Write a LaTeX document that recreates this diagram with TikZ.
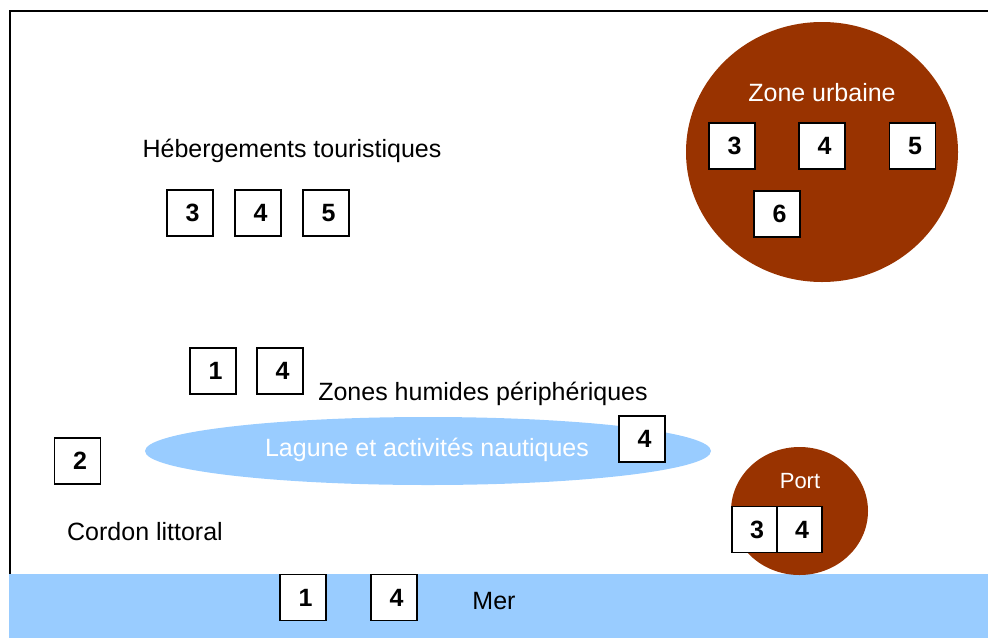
\documentclass[tikz,border=0pt]{standalone}
\usepackage{fontspec}
\setmainfont{Liberation Sans}
\definecolor{sea}{HTML}{99CCFF}
\definecolor{brick}{HTML}{993300}
\begin{document}
\begin{tikzpicture}[x=1pt,y=-1pt,
  numbox/.style={draw=black,line width=1.6pt,fill=white,minimum width=46pt,minimum height=46pt,inner sep=0pt,font=\fontsize{25}{30}\selectfont\bfseries,execute at begin node={\hspace*{5pt}}},
  lbl/.style={inner sep=0pt,font=\fontsize{25}{30}\selectfont,text=black},
  wlbl/.style={lbl,text=white}]
\useasboundingbox (0,0) rectangle (988,638);
% frame
\draw[line width=2pt] (9.5,574) -- (9.5,10.5) -- (988,10.5);
% sea
\fill[sea] (9,574) rectangle (988,638);
% lagoon
\fill[sea] (428,451) ellipse [x radius=283, y radius=34];
% urban zone
\fill[brick] (822,152) ellipse [x radius=136, y radius=130];
% port
\fill[brick] (799.5,511) ellipse [x radius=68.5, y radius=64];
% labels
\node[lbl] (heb) at (292,151) {Hébergements touristiques};
\node[wlbl] (zu) at (822,93) {Zone urbaine};
\node[lbl] (zh) at (483,394) {Zones humides périphériques};
\node[wlbl] (lag) at (427,450) {Lagune et activités nautiques};
\node[lbl] (cord) at (145,532) {Cordon littoral};
\node[wlbl,font=\fontsize{22}{26}\selectfont] (port) at (800,481) {Port};
\node[lbl] (mer) at (494,601) {Mer};
% boxes: hebergements
\node[numbox] (h3) at (190,213) {3};
\node[numbox] (h4) at (258,213) {4};
\node[numbox] (h5) at (326,213) {5};
% urban
\node[numbox] (u3) at (732,146) {3};
\node[numbox] (u4) at (822,146) {4};
\node[numbox] (u5) at (912.5,146) {5};
\node[numbox] (u6) at (777,214) {6};
% wetlands
\node[numbox] (w1) at (213,371) {1};
\node[numbox] (w4) at (280,371) {4};
% lagoon
\node[numbox] (l4) at (642,439) {4};
% cordon
\node[numbox] (c2) at (77.5,461) {2};
% port
\node[numbox,minimum width=45pt] (p3) at (754.5,529.5) {3};
\node[numbox,minimum width=45pt] (p4) at (799.5,529.5) {4};
% sea
\node[numbox] (s1) at (303,597.5) {1};
\node[numbox] (s4) at (394,597.5) {4};
\end{tikzpicture}
\end{document}
